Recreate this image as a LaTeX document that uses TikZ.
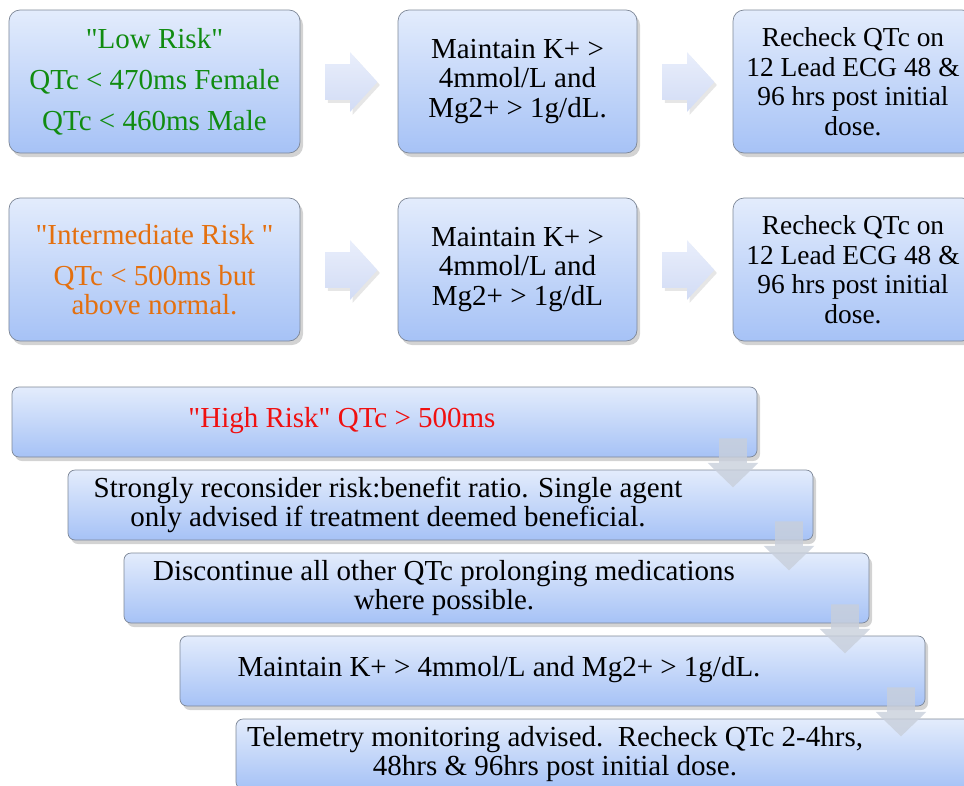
\documentclass[tikz,border=0pt]{standalone}
\usepackage{fontspec}
\setmainfont{Liberation Serif}[Ligatures=TeXOff]
\usetikzlibrary{shapes.arrows,shadows}
\definecolor{qtTop}{HTML}{E3ECFC}
\definecolor{qtBot}{HTML}{A6C2F6}
\definecolor{qtEdge}{HTML}{7D8797}
\definecolor{qtArrTop}{HTML}{E9EEFB}
\definecolor{qtArrBot}{HTML}{D2DCF5}
\definecolor{qtDown}{HTML}{C8CFDB}
\definecolor{qtGreen}{HTML}{118C11}
\definecolor{qtOrange}{HTML}{E4700F}
\definecolor{qtRed}{HTML}{F01010}

\begin{document}
\begin{tikzpicture}[
  font=\fontsize{16.5}{16.8}\selectfont,
  blk/.style={draw=qtEdge,thin,rounded corners=2.2mm,top color=qtTop,bottom color=qtBot,
              drop shadow={shadow xshift=0.6mm,shadow yshift=-0.8mm,opacity=0.35},
              align=center,inner sep=0pt},
  side/.style={blk,minimum height=28.6mm},
  ecg/.style={side,minimum width=48mm,font=\fontsize{15.6}{16.8}\selectfont},
  stair/.style={blk,rounded corners=1.4mm,minimum width=149mm,minimum height=14mm},
  rarr/.style={single arrow,single arrow head extend=2.4mm,single arrow tip angle=95,
               minimum width=11.8mm,minimum height=10.4mm,inner sep=3.5mm,anchor=tail,
               top color=qtArrTop,bottom color=qtArrBot,
               drop shadow={shadow xshift=0.5mm,shadow yshift=-0.6mm,opacity=0.2}},
  darr/.style={single arrow,shape border rotate=270,single arrow head extend=2.3mm,
               single arrow tip angle=92,minimum width=10mm,minimum height=9.8mm,
               inner sep=2.7mm,anchor=tail,fill=qtDown,opacity=0.8},
  txt/.style={align=center,inner sep=0pt}]

\useasboundingbox (0,0) rectangle (19.28,-15.7);
\clip (0,0) rectangle (19.28,-15.7);

% low risk row
\node[side,minimum width=58.2mm,text=qtGreen] (low) at (3.09,-1.63)
  {"Low Risk"\\[2.3mm] QTc < 470ms Female\\[2.3mm] QTc < 460ms Male};
\node[side,minimum width=47.8mm] (lowK) at (10.35,-1.63) {Maintain K+ >\\4mmol/L and\\Mg2+ > 1g/dL.};
\node[ecg] (lowEcg) at (17.06,-1.63) {Recheck QTc on\\12 Lead ECG 48 \&\\96 hrs post initial\\dose.};
\node[rarr] (ra1) at (6.5,-1.64) {};
\node[rarr] (ra2) at (13.24,-1.64) {};

% intermediate risk row
\node[side,minimum width=58.2mm,text=qtOrange] (mid) at (3.09,-5.39)
  {"Intermediate Risk "\\[2.3mm] QTc < 500ms but\\above normal.};
\node[side,minimum width=47.8mm] (midK) at (10.35,-5.39) {Maintain K+ >\\4mmol/L and\\Mg2+ > 1g/dL};
\node[ecg] (midEcg) at (17.06,-5.39) {Recheck QTc on\\12 Lead ECG 48 \&\\96 hrs post initial\\dose.};
\node[rarr] (ra3) at (6.5,-5.4) {};
\node[rarr] (ra4) at (13.24,-5.4) {};

% high risk staircase
\node[stair] (s1) at (7.69,-8.44) {};
\node[stair] (s2) at (8.81,-10.10) {};
\node[stair] (s3) at (9.93,-11.76) {};
\node[stair] (s4) at (11.05,-13.42) {};
\node[stair] (s5) at (12.17,-15.08) {};

\node[txt,text=qtRed] (t1) at (6.84,-8.42) {"High Risk" QTc > 500ms};
\node[txt] (t2) at (7.76,-10.10) {Strongly reconsider risk:benefit ratio. Single agent\\only advised if treatment deemed beneficial.};
\node[txt] (t3) at (8.88,-11.76) {Discontinue all other QTc prolonging medications\\where possible.};
\node[txt] (t4) at (9.98,-13.40) {Maintain K+ > 4mmol/L and Mg2+ > 1g/dL.};
\node[txt] (t5) at (11.10,-15.08) {Telemetry monitoring advised.\ \ Recheck QTc 2-4hrs,\\48hrs \& 96hrs post initial dose.};

\node[darr] (da1) at (14.66,-8.76) {};
\node[darr] (da2) at (15.78,-10.42) {};
\node[darr] (da3) at (16.90,-12.08) {};
\node[darr] (da4) at (18.02,-13.74) {};
\end{tikzpicture}
\end{document}
